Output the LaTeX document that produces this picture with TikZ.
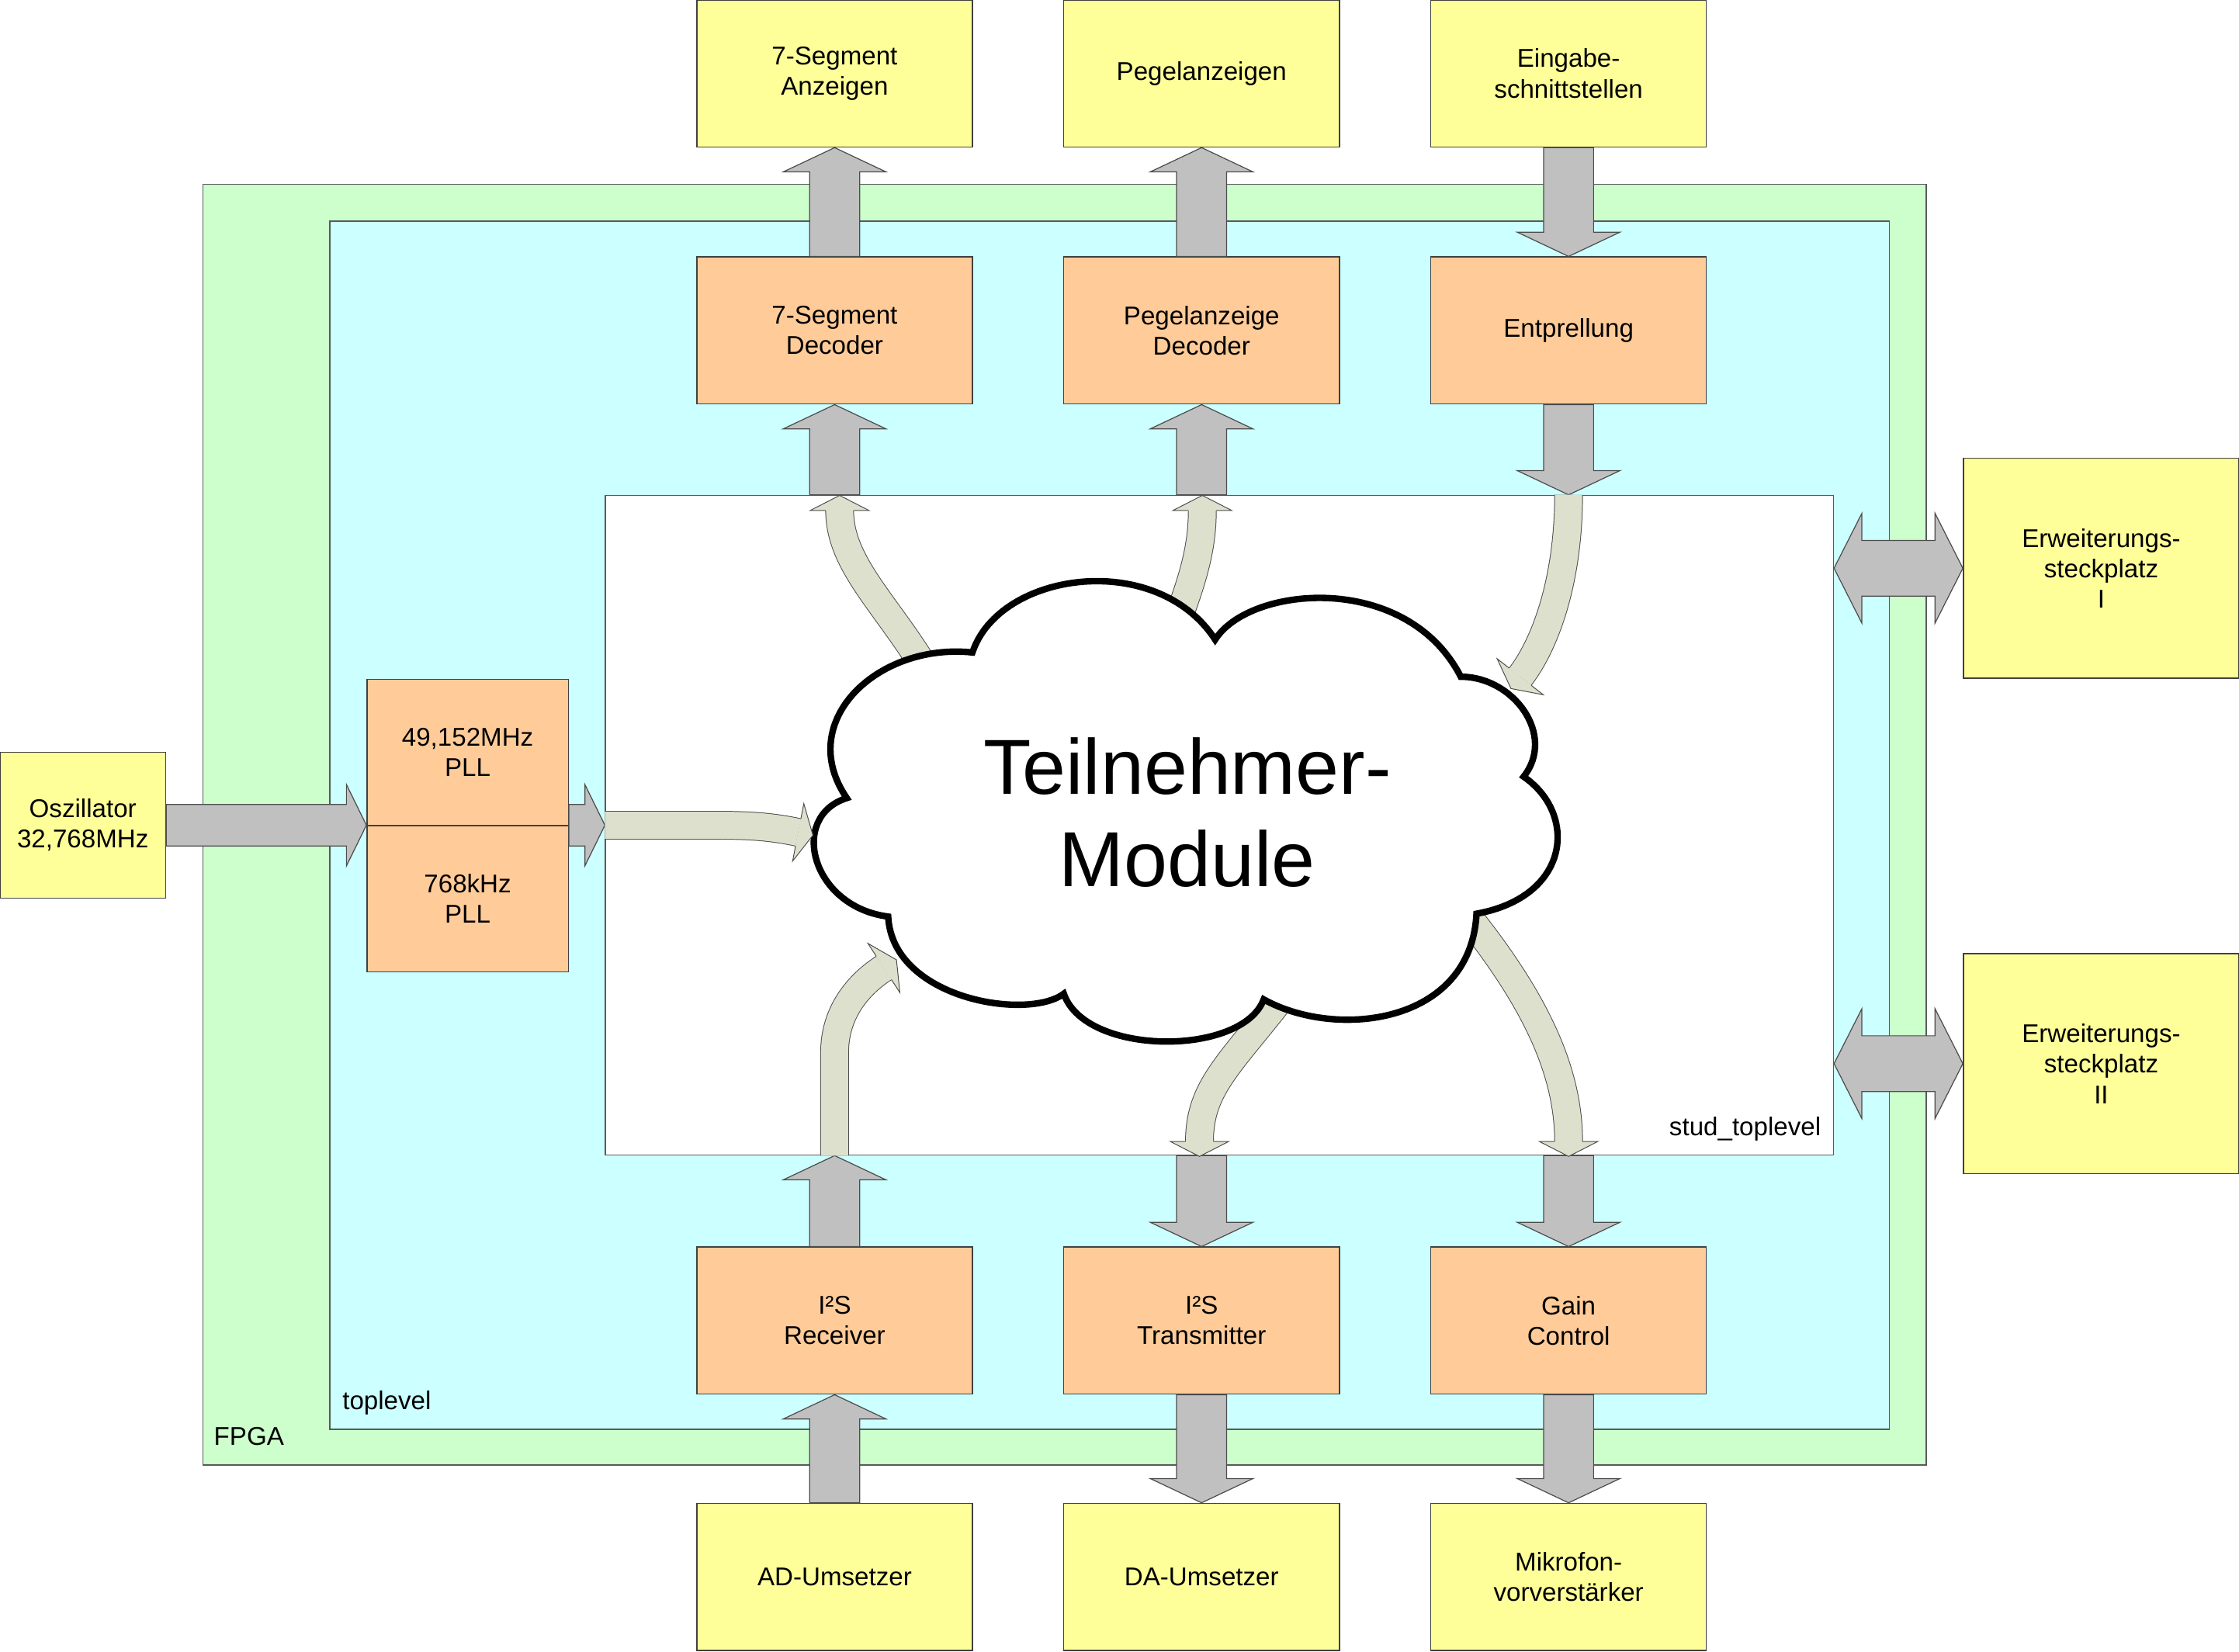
\documentclass[tikz,border=0pt]{standalone}
\usepackage{fontspec}
\setmainfont{Liberation Sans}
\usetikzlibrary{calc}

\definecolor{boxgelb}{RGB}{255,255,153}
\definecolor{boxorange}{RGB}{255,204,153}
\definecolor{fpgagruen}{RGB}{204,255,204}
\definecolor{topcyan}{RGB}{204,255,255}
\definecolor{pfeilgrau}{RGB}{192,192,192}
\definecolor{pfeilhell}{RGB}{221,224,204}

\newcommand{\boxfont}{\fontsize{13.5pt}{16pt}\selectfont}

% graue Blockpfeile: #1 = Ende, #2 = Spitze
\newcommand{\pfeilauf}[2]{\draw[garrow] ($(#1)+(-17.5,0)$) -- ($(#2)+(-17.5,17)$) -- ($(#2)+(-36,17)$) -- (#2) -- ($(#2)+(36,17)$) -- ($(#2)+(17.5,17)$) -- ($(#1)+(17.5,0)$) -- cycle;}
\newcommand{\pfeilab}[2]{\draw[garrow] ($(#1)+(-17.5,0)$) -- ($(#2)+(-17.5,-17)$) -- ($(#2)+(-36,-17)$) -- (#2) -- ($(#2)+(36,-17)$) -- ($(#2)+(17.5,-17)$) -- ($(#1)+(17.5,0)$) -- cycle;}
\newcommand{\pfeilrechts}[2]{\draw[garrow] ($(#1)+(0,-14.5)$) -- ($(#2)+(-14,-14.5)$) -- ($(#2)+(-14,-28.5)$) -- (#2) -- ($(#2)+(-14,28.5)$) -- ($(#2)+(-14,14.5)$) -- ($(#1)+(0,14.5)$) -- cycle;}
\newcommand{\doppelpfeil}[2]{\draw[garrow] (#1) -- ($(#1)+(19.5,-38.5)$) -- ($(#1)+(19.5,-19.5)$) -- ($(#2)+(-19.5,-19.5)$) -- ($(#2)+(-19.5,-38.5)$) -- (#2) -- ($(#2)+(-19.5,38.5)$) -- ($(#2)+(-19.5,19.5)$) -- ($(#1)+(19.5,19.5)$) -- ($(#1)+(19.5,38.5)$) -- cycle;}

\tikzset{
  box/.style={draw=black!75, line width=0.6pt, inner sep=0pt, align=center, font=\boxfont, minimum width=144.75pt, minimum height=77.25pt},
  ybox/.style={box, fill=boxgelb},
  obox/.style={box, fill=boxorange},
  rahmen/.style={draw=black!65, line width=0.6pt, inner sep=0pt},
  garrow/.style={draw=black!70, fill=pfeilgrau, line width=0.5pt},
  lshaft/.style={draw=black!70, line width=0.4pt, double=pfeilhell, double distance=14.25pt},
  lhead/.pic={
    \fill[pfeilhell] (0,-20.5) -- (10.5,0) -- (0,20.5) -- cycle;
    \draw[black!70, line width=0.4pt] (0,-9.8) -- (0,-20.5) -- (10.5,0) -- (0,20.5) -- (0,9.8);
  },
  wolke/.style={draw=black, line width=3.4pt, fill=white},
  lbl/.style={font=\boxfont, inner sep=0pt}
}

\begin{document}
\begin{tikzpicture}[x=0.75pt,y=0.75pt,yscale=-1,xscale=1]

\useasboundingbox (0,0) rectangle (1568,1157);

% Rahmen
\node[rahmen, fill=fpgagruen, minimum width=905.25pt, minimum height=672.75pt] (fpga) at (745.5,577.5) {};
\node[rahmen, fill=topcyan, minimum width=819pt, minimum height=634.5pt] (toplevel) at (777,578) {};
\node[rahmen, fill=white, minimum width=645pt, minimum height=346.5pt] (stud) at (854,578) {};

\node[lbl, anchor=base west] (fpgalbl) at ($(fpga.south west)+(8,-14)$) {FPGA};
\node[lbl, anchor=base west] (toplbl) at ($(toplevel.south west)+(9,-14)$) {toplevel};
\node[lbl, anchor=base east] (studlbl) at ($(stud.south east)+(-9,-14)$) {stud\_toplevel};

% Bloecke
\node[ybox] (anz7) at (584.5,51.5) {7-Segment\\Anzeigen};
\node[ybox] (peganz) at (841.5,51.5) {Pegelanzeigen};
\node[ybox] (eingabe) at (1098.5,51.5) {Eingabe-\\schnittstellen};

\node[obox] (dec7) at (584.5,231.5) {7-Segment\\Decoder};
\node[obox] (pegdec) at (841.5,231.5) {Pegelanzeige\\Decoder};
\node[obox] (entpr) at (1098.5,231.5) {Entprellung};

\node[obox] (i2srx) at (584.5,925) {I²S\\Receiver};
\node[obox] (i2stx) at (841.5,925) {I²S\\Transmitter};
\node[obox] (gain) at (1098.5,925) {Gain\\Control};

\node[ybox] (adu) at (584.5,1104.5) {AD-Umsetzer};
\node[ybox] (dau) at (841.5,1104.5) {DA-Umsetzer};
\node[ybox] (mikro) at (1098.5,1104.5) {Mikrofon-\\vorverstärker};

\node[ybox, minimum height=115.5pt] (slot1) at (1471.5,398) {Erweiterungs-\\steckplatz\\I};
\node[ybox, minimum height=115.5pt] (slot2) at (1471.5,745) {Erweiterungs-\\steckplatz\\II};

\node[ybox, minimum width=87pt, minimum height=76.5pt] (osz) at (58,578) {Oszillator\\32,768MHz};
\node[obox, minimum width=105.75pt, minimum height=76.875pt] (pll1) at (327.5,527) {49,152MHz\\PLL};
\node[obox, minimum width=105.75pt, minimum height=76.875pt] (pll2) at (327.5,629.5) {768kHz\\PLL};

% Hilfspunkte
\coordinate (d1) at (dec7.south |- stud.north);
\coordinate (d2) at (pegdec.south |- stud.north);
\coordinate (d3) at (entpr.south |- stud.north);
\coordinate (u1) at (i2srx.north |- stud.south);
\coordinate (u2) at (i2stx.north |- stud.south);
\coordinate (u3) at (gain.north |- stud.south);
\coordinate (p1) at (osz.east -| pll1.west);
\coordinate (p2) at (osz.east -| pll1.east);
\coordinate (p3) at (osz.east -| stud.west);
\coordinate (e1) at (slot1.west -| stud.east);
\coordinate (e2) at (slot2.west -| stud.east);

% graue Pfeile
\pfeilauf{dec7.north}{anz7.south}
\pfeilauf{d1}{dec7.south}
\pfeilauf{pegdec.north}{peganz.south}
\pfeilauf{d2}{pegdec.south}
\pfeilab{eingabe.south}{entpr.north}
\pfeilab{entpr.south}{d3}

\pfeilauf{i2srx.north}{u1}
\pfeilauf{adu.north}{i2srx.south}
\pfeilab{u2}{i2stx.north}
\pfeilab{i2stx.south}{dau.north}
\pfeilab{u3}{gain.north}
\pfeilab{gain.south}{mikro.north}

\pfeilrechts{osz.east}{p1}
\pfeilrechts{p2}{p3}
\doppelpfeil{e1}{slot1.west}
\doppelpfeil{e2}{slot2.west}

% helle Pfeile
\coordinate (w1) at (660,490);
\coordinate (k1) at (588,357.5);
\coordinate (w2) at (815,460);
\coordinate (k2) at (842,357.5);
\coordinate (k3) at (1064.6,474);
\coordinate (k4) at (559,583);
\coordinate (k5) at (619,678);
\coordinate (w6) at (920,668);
\coordinate (k6) at (840,799.5);
\coordinate (w7) at (1010,620);
\coordinate (k7) at (1098.5,799.5);

\draw[lshaft] (w1) .. controls (630,430) and (588,400) .. (k1);
\draw[lshaft] (w2) .. controls (832,415) and (842,390) .. (k2);
\draw[lshaft] (d3) .. controls (1098.5,405) and (1083,450) .. (k3);
\draw[lshaft] (p3) -- (500,578) .. controls (525,578) and (540,579) .. (k4);
\draw[lshaft] (u1) -- (584.5,737) .. controls (584.5,712) and (598,691.6) .. (k5);
\draw[lshaft] (w6) .. controls (870,740) and (840,755) .. (k6);
\draw[lshaft] (w7) .. controls (1070,690) and (1098.5,745) .. (k7);

% Wolke
\draw[wolke] (593,559) .. controls (556,505) and (615,450) .. (681,457)
  .. controls (700,400) and (810,385) .. (851,448)
  .. controls (875,410) and (985,400) .. (1023,474)
  .. controls (1060,474) and (1090,515) .. (1067,544)
  .. controls (1105,570) and (1100,628) .. (1034,640)
  .. controls (1030,718) and (935,728) .. (885,700)
  .. controls (870,740) and (760,740) .. (745,696)
  .. controls (720,715) and (625,700) .. (622,642)
  .. controls (568,635) and (552,572) .. (593,559) -- cycle;
\node[font=\fontsize{41pt}{48.75pt}\selectfont, align=center, inner sep=0pt] (tm) at (831.5,569) {Teilnehmer-\\Module};

\pic[rotate=90] at (k1) {lhead};
\pic[rotate=90] at (k2) {lhead};
\pic[rotate=-128] at (k3) {lhead};
\pic[rotate=-11] at (k4) {lhead};
\pic[rotate=33] at (k5) {lhead};
\pic[rotate=-90] at (k6) {lhead};
\pic[rotate=-90] at (k7) {lhead};

\end{tikzpicture}
\end{document}
